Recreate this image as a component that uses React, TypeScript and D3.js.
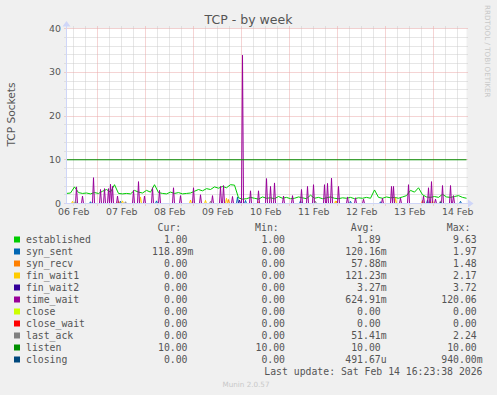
import React from 'react';
import * as d3 from 'd3';

const W = 497;
const H = 395;

const seriesNames = ['established', 'syn_sent', 'syn_recv', 'fin_wait1', 'fin_wait2', 'time_wait', 'close', 'close_wait', 'last_ack', 'listen', 'closing'];
const seriesColors = ['#00CC00', '#0066B3', '#FF8000', '#FFCC00', '#330099', '#990099', '#CCFF00', '#FF0000', '#808080', '#008F00', '#00487D'];
const curVals = ['1.00', '118.89m', '0.00', '0.00', '0.00', '0.00', '0.00', '0.00', '0.00', '10.00', '0.00'];
const minVals = ['1.00', '0.00', '0.00', '0.00', '0.00', '0.00', '0.00', '0.00', '0.00', '10.00', '0.00'];
const avgVals = ['1.89', '120.16m', '57.88m', '121.23m', '3.27m', '624.91m', '0.00', '0.00', '51.41m', '10.00', '491.67u'];
const maxVals = ['9.63', '1.97', '1.48', '2.17', '3.72', '120.06', '0.00', '0.00', '2.24', '10.00', '940.00m'];
const dayLabels = ['06 Feb', '07 Feb', '08 Feb', '09 Feb', '10 Feb', '11 Feb', '12 Feb', '13 Feb', '14 Feb'];
const yTicks = [0, 10, 20, 30, 40];

const title = 'TCP - by week';
const yLabel = 'TCP Sockets';
const lastUpdate = 'Last update: Sat Feb 14 16:23:38 2026';
const version = 'Munin 2.0.57';
const watermark = 'RRDTOOL / TOBI OETIKER';

// established: one reading every 2 hours from the start of the graph
const establishedValues = [
  2.3, 2.4, 3.8, 2.5, 2.3, 2.4, 2.2, 2.5, 2.3, 2.8,
  3.2, 2.6, 4.3, 2.3, 2.2, 2.3, 2.2, 3.0, 2.6, 2.4,
  3.0, 2.6, 4.3, 2.5, 2.3, 2.2, 2.6, 2.3, 2.5, 2.2,
  2.3, 2.4, 2.8, 3.2, 2.9, 3.4, 3.2, 3.8, 3.5, 3.9,
  3.6, 4.3, 4.2, 1.3, 1.0, 1.1, 1.4, 1.2, 1.0, 1.5,
  1.2, 1.3, 1.1, 1.6, 1.2, 1.4, 1.1, 1.2, 1.5, 1.3,
  1.1, 1.9, 1.2, 1.4, 1.1, 1.3, 1.5, 1.2, 1.1, 1.3,
  1.2, 1.4, 1.1, 1.3, 1.2, 1.4, 1.2, 3.1, 1.4, 1.2,
  1.5, 1.3, 1.4, 1.2, 1.5, 1.8, 3.0, 2.6, 3.6, 2.0,
  1.5, 1.4, 1.6, 1.4, 2.1, 1.5, 1.4, 1.6, 1.8, 1.4,
  1.2,
];

// sparse series: hours since 06 Feb 00:00 and values (zero elsewhere)
const timeWaitHours = [13.4, 16.25, 21.75, 25.4, 27.55, 29.55, 30.4, 31.25, 33.75, 41.75, 44.55, 47.4, 51.25, 55.05, 61.75, 65.4, 71.75, 75.4, 81.25, 85.4, 86.75, 91.25, 96.25, 100.4, 104.55, 108.4, 110.4, 112.4, 117.05, 121.25, 125.75, 128.75, 131.75, 137.55, 138.75, 140.75, 144.55, 148.75, 152.9, 157.05, 166.25, 170.75, 171.75, 175.4, 179.55, 186.75, 189.55, 190.75, 192.9, 196.55, 200.4, 202.05];
const timeWaitValues = [3.8, 1.7, 5.9, 3.2, 3.4, 3.4, 4.4, 3.9, 1.7, 3.0, 5.0, 1.7, 3.6, 3.0, 3.6, 1.8, 3.6, 2.0, 1.8, 3.9, 4.1, 1.6, 33.9, 2.9, 2.9, 5.7, 3.9, 4.7, 1.7, 1.8, 3.2, 3.9, 4.3, 4.3, 4.6, 5.8, 3.9, 1.5, 1.3, 1.0, 1.2, 3.9, 3.9, 1.2, 4.3, 1.7, 3.6, 5.0, 1.0, 4.1, 4.1, 1.8];
const synSentHours = [20.4, 35.4, 53.4, 93.75, 97.9, 125.4, 150.4, 165.4, 188.9, 205.4];
const synSentValues = [0.4, 0.5, 0.6, 1.5, 0.7, 0.6, 0.5, 0.4, 0.8, 0.5];
const synRecvHours = [34.4, 89.4, 104.4, 143.4, 186.25];
const synRecvValues = [0.6, 0.9, 0.4, 0.5, 0.7];
const finWait1Hours = [11.4, 36.4, 45.4, 70.4, 77.9, 88.4, 143.0, 172.9, 191.4];
const finWait1Values = [0.5, 0.6, 1.5, 0.8, 0.7, 1.2, 0.6, 1.3, 0.6];
const finWait2Hours = [95.0];
const finWait2Values = [0.8];
const lastAckHours = [12.9, 37.9, 80.4, 132.9, 195.4];
const lastAckValues = [0.6, 0.4, 0.5, 0.5, 0.6];
const closingHours = [195.4];
const closingValues = [0.3];
const listenValue = 10;

// time frame
const endTime = new Date(2026, 1, 14, 16, 24, 0);
const startTime = new Date(2026, 1, 6, 8, 24, 0);
const dayZero = new Date(2026, 1, 6, 0, 0, 0);
const HOUR = 3600 * 1000;
const STEPS = 400;

const plotL = 66.5;
const plotR = 466.5;
const plotT = 28.5;
const plotB = 203.5;

const x = d3.scaleTime().domain([startTime, endTime]).range([plotL, plotR]);
const y = d3.scaleLinear().domain([0, 40]).range([plotB, plotT]);

type Pt = { t: Date; v: number };

function dense(hours: number[], values: number[]): Pt[] {
  const m = new Map<number, number>();
  const offset = (startTime.getTime() - dayZero.getTime()) / HOUR;
  hours.forEach((h, i) => {
    const k = Math.round((h - offset) * 2);
    m.set(k, Math.max(m.get(k) ?? 0, values[i]));
  });
  const pts: Pt[] = [];
  for (let k = 0; k <= STEPS; k++) {
    pts.push({ t: new Date(startTime.getTime() + k * HOUR / 2), v: m.get(k) ?? 0 });
  }
  return pts;
}

const establishedPts: Pt[] = establishedValues.map((v, i) => ({ t: new Date(startTime.getTime() + i * 2 * HOUR), v }));
const constPts = (val: number): Pt[] => [{ t: startTime, v: val }, { t: endTime, v: val }];

const seriesData: Pt[][] = [
  establishedPts,
  dense(synSentHours, synSentValues),
  dense(synRecvHours, synRecvValues),
  dense(finWait1Hours, finWait1Values),
  dense(finWait2Hours, finWait2Values),
  dense(timeWaitHours, timeWaitValues),
  dense([], []),
  dense([], []),
  dense(lastAckHours, lastAckValues),
  constPts(listenValue),
  dense(closingHours, closingValues),
];

const lineGen = d3.line<Pt>().x((d) => x(d.t)).y((d) => y(d.v));

const crisp = (v: number) => Math.round(v - 0.5) + 0.5;

export default function App() {
  const sans = 'DejaVu Sans, sans-serif';
  const mono = 'DejaVu Sans Mono, monospace';
  const textColor = '#555';

  const hMinor: number[] = d3.range(0, 41, 2).filter((v) => v % 10 !== 0);
  const vTicks: Date[] = d3.timeHour.every(6)!.range(startTime, endTime);
  const noonTicks: Date[] = d3.timeDay.range(dayZero, endTime).map((d) => d3.timeHour.offset(d, 12));

  const legendTop = 243;
  const rowH = 12;
  const colEdges = [187.5, 285, 380.7, 476.7];
  const headers = ['Cur:', 'Min:', 'Avg:', 'Max:'];
  const cols = [curVals, minVals, avgVals, maxVals];

  const split = (s: string) => {
    const m = s.match(/^([0-9.]+)([a-zA-Z]?)$/);
    return m ? [m[1], m[2]] : [s, ''];
  };

  const minorColor = '#cdcdcd';
  const majorColor = '#eaa9a9';

  return (
    <svg width={W} height={H} viewBox={`0 0 ${W} ${H}`} style={{ position: 'fixed', left: 0, top: 0, display: 'block' }}>
      <rect x={0} y={0} width={W} height={H} fill="#F0F0F0" />
      <rect x={plotL} y={plotT} width={plotR - plotL} height={plotB - plotT} fill="#FFFFFF" />

      {hMinor.map((v) => (
        <line key={'hm' + v} x1={plotL - 2} x2={plotR + 2} y1={crisp(y(v))} y2={crisp(y(v))} stroke={minorColor} strokeDasharray="1,1" strokeWidth={1} />
      ))}
      {vTicks.filter((d) => d.getHours() !== 0).map((d, i) => (
        <line key={'vm' + i} x1={crisp(x(d))} x2={crisp(x(d))} y1={plotT - 2} y2={plotB + 2} stroke={minorColor} strokeDasharray="1,1" strokeWidth={1} />
      ))}
      {yTicks.map((v) => (
        <line key={'hM' + v} x1={plotL - 2} x2={plotR + 2} y1={crisp(y(v))} y2={crisp(y(v))} stroke={majorColor} strokeDasharray="1,1" strokeWidth={1} />
      ))}
      {vTicks.filter((d) => d.getHours() === 0).map((d, i) => (
        <line key={'vM' + i} x1={crisp(x(d))} x2={crisp(x(d))} y1={plotT - 2} y2={plotB + 2} stroke={majorColor} strokeDasharray="1,1" strokeWidth={1} />
      ))}

      {seriesData.map((pts, i) => (
        <path key={'s' + i} d={lineGen(pts) ?? ''} fill="none" stroke={seriesColors[i]} strokeWidth={1} />
      ))}

      <line x1={plotL} x2={plotL} y1={plotB} y2={23} stroke="#CFD6F8" strokeWidth={1} />
      <path d={`M${plotL - 4},${26.5} L${plotL + 4},${26.5} L${plotL},${21} Z`} fill="#CFD6F8" />
      <line x1={plotL - 2} x2={470} y1={plotB} y2={plotB} stroke="#CFD6F8" strokeWidth={1} />
      <path d={`M${468},${plotB - 4} L${468},${plotB + 4} L${473.5},${plotB} Z`} fill="#CFD6F8" />

      {yTicks.map((v) => (
        <text key={'yt' + v} x={61} y={y(v) + 3.2} textAnchor="end" fontFamily={sans} fontSize={9.4} fill={textColor}>{v}</text>
      ))}
      {noonTicks.filter((d) => x(d) > plotL && x(d) < plotR).map((d, i) => (
        <text key={'xt' + i} x={x(d)} y={214.5} textAnchor="middle" fontFamily={sans} fontSize={9.4} fill={textColor}>{dayLabels[i]}</text>
      ))}

      <text x={248.5} y={24} textAnchor="middle" fontFamily={sans} fontSize={12.5} fill={textColor}>{title}</text>
      <text transform={`translate(14.5,114.5) rotate(-90)`} textAnchor="middle" fontFamily={sans} fontSize={10.6} fill={textColor}>{yLabel}</text>
      <text transform={`translate(485,5) rotate(90)`} textAnchor="start" fontFamily={sans} fontSize={7.2} fill="#c8c8c8">{watermark}</text>

      {headers.map((h, j) => (
        <text key={'hd' + j} x={colEdges[j] - 6.3} y={231} textAnchor="end" fontFamily={mono} fontSize={9.8} fill={textColor}>{h}</text>
      ))}
      {seriesNames.map((name, i) => {
        const yy = legendTop + i * rowH;
        return (
          <g key={'lg' + i}>
            <rect x={14} y={yy - 6.5} width={6} height={6} fill={seriesColors[i]} />
            <text x={26} y={yy} fontFamily={mono} fontSize={9.8} fill={textColor}>{name}</text>
            {cols.map((col, j) => {
              const [num, suf] = split(col[i]);
              return (
                <g key={'c' + j}>
                  <text x={colEdges[j]} y={yy} textAnchor="end" fontFamily={mono} fontSize={9.8} fill={textColor}>{num}</text>
                  {suf ? <text x={colEdges[j]} y={yy} fontFamily={mono} fontSize={9.8} fill={textColor}>{suf}</text> : null}
                </g>
              );
            })}
          </g>
        );
      })}
      <text x={482.5} y={375} textAnchor="end" fontFamily={mono} fontSize={9.8} fill={textColor}>{lastUpdate}</text>
      <text x={246} y={386.5} textAnchor="middle" fontFamily={sans} fontSize={7.2} fill="#c8c8c8">{version}</text>
    </svg>
  );
}
